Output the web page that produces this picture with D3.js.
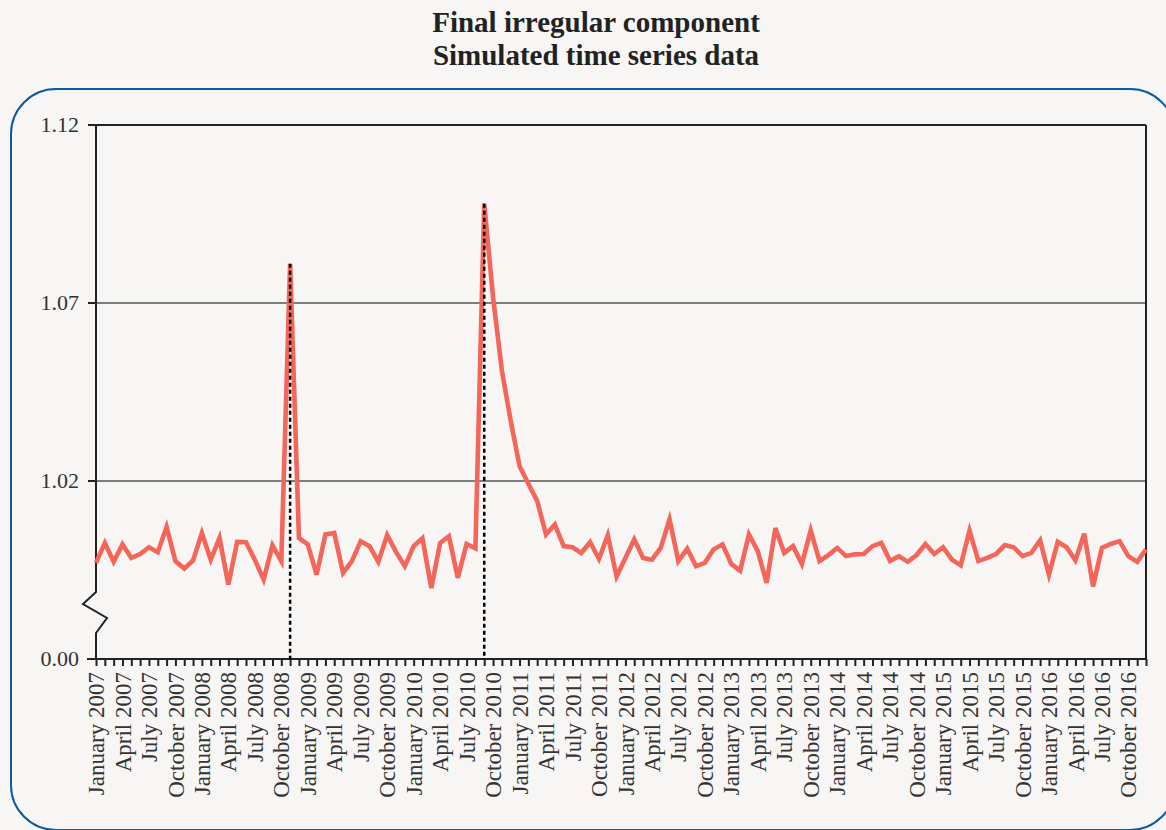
<!DOCTYPE html>
<html>
<head>
<meta charset="utf-8">
<script src="https://cdn.jsdelivr.net/npm/d3@7"></script>
<style>
  html, body { margin: 0; padding: 0; background: #f7f6f4; }
  svg { display: block; }
  text { font-family: "Liberation Serif", "Times New Roman", serif; }
</style>
</head>
<body>
<svg id="chart" width="1166" height="830"></svg>
<script>
// ---- data ----
const monthNames = ["January","February","March","April","May","June","July","August","September","October","November","December"];
const years = [2007,2008,2009,2010,2011,2012,2013,2014,2015,2016];
const months = [];
years.forEach(y => monthNames.forEach(m => months.push(m + " " + y)));

const irregular = [
  0.9970, 1.0026, 0.9973, 1.0022, 0.9984, 0.9995, 1.0014, 1.0000, 1.0071, 0.9975,
  0.9954, 0.9977, 1.0054, 0.9979, 1.0040, 0.9909, 1.0029, 1.0028, 0.9979, 0.9923,
  1.0019, 0.9975, 1.0810, 1.0040, 1.0022, 0.9937, 1.0050, 1.0054, 0.9942, 0.9975,
  1.0031, 1.0017, 0.9973, 1.0048, 1.0001, 0.9961, 1.0017, 1.0039, 0.9899, 1.0026,
  1.0045, 0.9928, 1.0023, 1.0011, 1.0979, 1.0716, 1.0510, 1.0369, 1.0242, 1.0192,
  1.0144, 1.0050, 1.0078, 1.0017, 1.0014, 0.9998, 1.0028, 0.9981, 1.0048, 0.9932,
  0.9984, 1.0036, 0.9984, 0.9979, 1.0012, 1.0092, 0.9975, 1.0010, 0.9961, 0.9970,
  1.0008, 1.0022, 0.9967, 0.9948, 1.0050, 1.0003, 0.9914, 1.0068, 0.9998, 1.0017,
  0.9967, 1.0061, 0.9975, 0.9992, 1.0012, 0.9989, 0.9994, 0.9995, 1.0017, 1.0026,
  0.9975, 0.9989, 0.9973, 0.9992, 1.0023, 0.9995, 1.0014, 0.9979, 0.9963, 1.0061,
  0.9975, 0.9984, 0.9995, 1.0020, 1.0014, 0.9989, 0.9998, 1.0033, 0.9937, 1.0029,
  1.0014, 0.9977, 1.0052, 0.9904, 1.0012, 1.0023, 1.0031, 0.9989, 0.9973, 1.0008
];

const outlierMonths = ["November 2008", "September 2010"];

// y ticks: the bottom tick sits at the axis break and is labelled 0.00
const yTickValues = [0.97, 1.02, 1.07, 1.12];
const yTickLabels = ["0.00", "1.02", "1.07", "1.12"];
const gridValues = [1.02, 1.07];

const titleLines = ["Final irregular component", "Simulated time series data"];

// ---- layout ----
const svg = d3.select("#chart");
const W = 1166, H = 830;
const mLeft = 96, mRight = 1146, mTop = 125, mBottom = 659;

svg.append("rect").attr("width", W).attr("height", H).attr("fill", "#f7f6f4");

// rounded frame
svg.append("rect")
  .attr("x", 11).attr("y", 89).attr("width", 1164).attr("height", 741)
  .attr("rx", 45).attr("ry", 45)
  .attr("fill", "none").attr("stroke", "#0d5aa0").attr("stroke-width", 2);

// title
svg.selectAll("text.title").data(titleLines).enter().append("text")
  .attr("class", "title")
  .attr("x", 596).attr("y", (d, i) => 32 + i * 33)
  .attr("text-anchor", "middle")
  .attr("font-size", 29).attr("font-weight", "bold").attr("fill", "#222")
  .text(d => d);

const x = d3.scalePoint().domain(months).range([mLeft, mRight]);
const y = d3.scaleLinear().domain([0.97, 1.12]).range([mBottom, mTop]);

// gridlines
svg.selectAll("line.grid").data(gridValues).enter().append("line")
  .attr("x1", mLeft).attr("x2", mRight)
  .attr("y1", d => y(d)).attr("y2", d => y(d))
  .attr("stroke", "#555").attr("stroke-width", 1.6);

// top and right frame lines
svg.append("line").attr("x1", mLeft - 8).attr("x2", mRight).attr("y1", mTop).attr("y2", mTop)
  .attr("stroke", "#222").attr("stroke-width", 2);
svg.append("line").attr("x1", mRight).attr("x2", mRight).attr("y1", mTop).attr("y2", mBottom)
  .attr("stroke", "#222").attr("stroke-width", 2);

// y axis with break
const yb = y(0.97);
svg.append("path")
  .attr("d", `M${mLeft},${mTop} L${mLeft},${yb - 67} L${mLeft - 13},${yb - 55} L${mLeft + 11},${yb - 41} L${mLeft},${yb - 26} L${mLeft},${yb}`)
  .attr("fill", "none").attr("stroke", "#222").attr("stroke-width", 2);

// y ticks + labels
svg.selectAll("line.ytick").data(yTickValues).enter().append("line")
  .attr("x1", mLeft - 8).attr("x2", mLeft)
  .attr("y1", d => y(d)).attr("y2", d => y(d))
  .attr("stroke", "#222").attr("stroke-width", 2);
svg.selectAll("text.ylab").data(yTickValues).enter().append("text")
  .attr("x", mLeft - 17).attr("y", d => y(d)).attr("dy", "0.33em")
  .attr("text-anchor", "end").attr("font-size", 22).attr("fill", "#333")
  .text((d, i) => yTickLabels[i]);

// x axis
const xAxis = d3.axisBottom(x)
  .tickSize(7)
  .tickFormat((d, i) => (i % 3 === 0 ? d : ""));
const gx = svg.append("g").attr("transform", `translate(0,${mBottom})`).call(xAxis);
gx.select(".domain").attr("stroke", "#222").attr("stroke-width", 2)
  .attr("d", `M${mLeft - 9},0H${mRight}`);
gx.selectAll(".tick line").attr("stroke", "#222").attr("stroke-width", 2);
gx.selectAll(".tick text")
  .attr("font-family", "Liberation Serif, serif")
  .attr("font-size", 23).attr("fill", "#333")
  .attr("transform", "rotate(-90)")
  .attr("text-anchor", "end")
  .attr("x", -13).attr("y", 0).attr("dy", "0.33em");

// series line
const line = d3.line().x((d, i) => x(months[i])).y(d => y(d));
svg.append("path").datum(irregular)
  .attr("d", line)
  .attr("fill", "none").attr("stroke", "#f4655a").attr("stroke-width", 4.6)
  .attr("stroke-linejoin", "miter");

// dashed outlier markers
svg.selectAll("line.outlier").data(outlierMonths).enter().append("line")
  .attr("x1", d => x(d)).attr("x2", d => x(d))
  .attr("y1", d => y(irregular[months.indexOf(d)])).attr("y2", mBottom)
  .attr("stroke", "#000").attr("stroke-width", 2.5).attr("stroke-dasharray", "4,3");
</script>
</body>
</html>
